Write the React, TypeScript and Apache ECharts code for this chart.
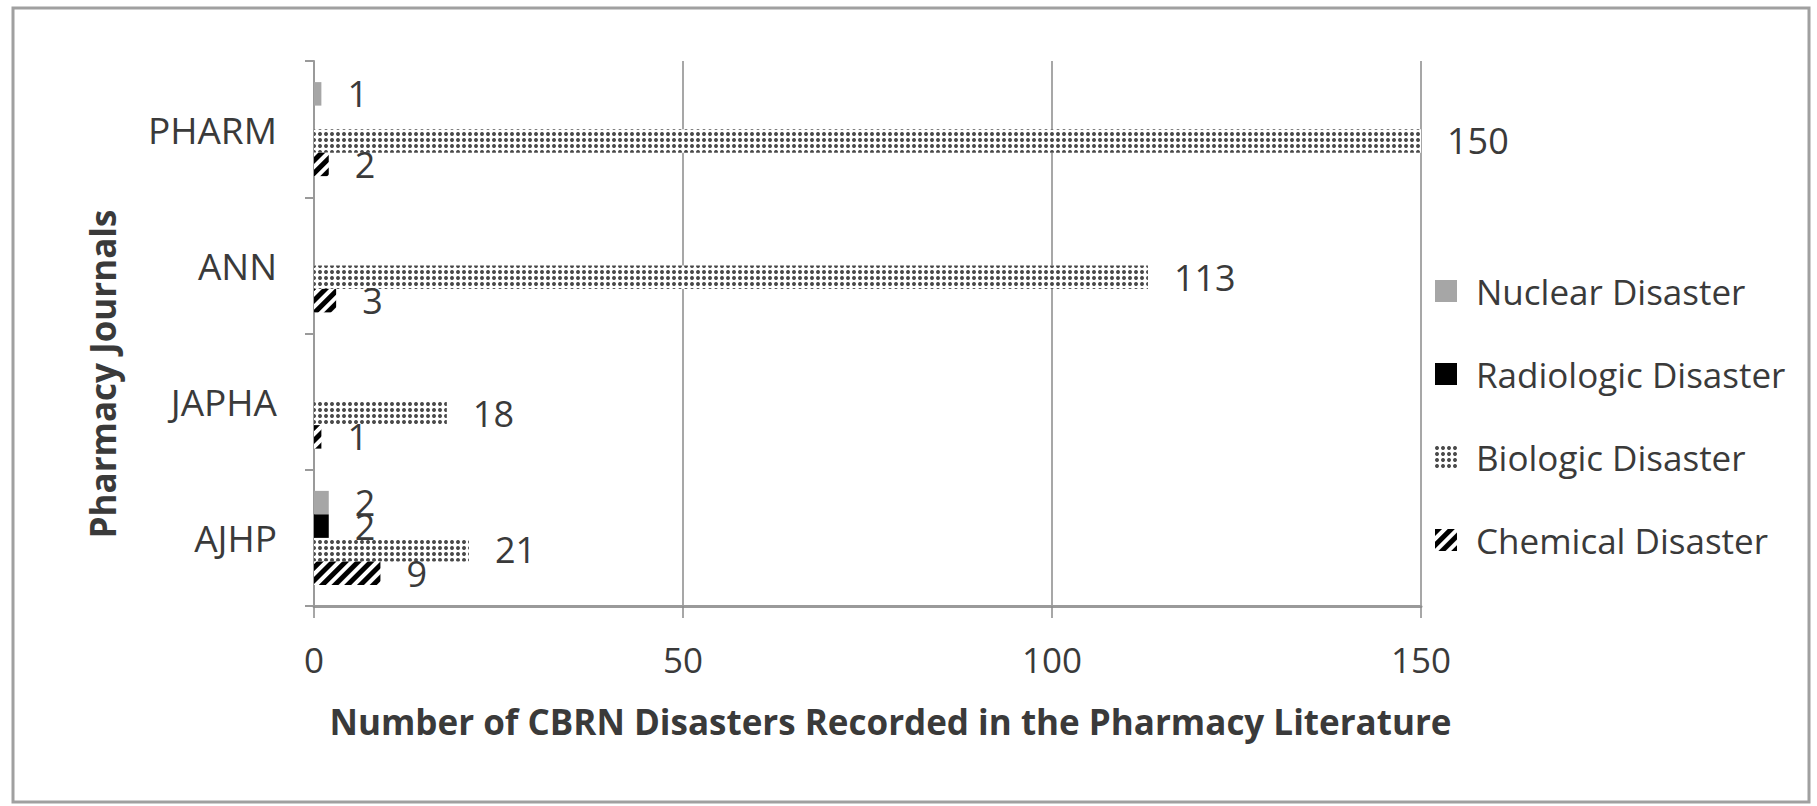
import React, { useEffect, useRef } from "react";
import * as echarts from "echarts";

const categories = ["PHARM", "ANN", "JAPHA", "AJHP"];
const seriesNames = ["Nuclear Disaster", "Radiologic Disaster", "Biologic Disaster", "Chemical Disaster"];
const nuclear = [1, 0, 0, 2];
const radiologic = [0, 0, 0, 2];
const biologic = [150, 113, 18, 21];
const chemical = [2, 3, 1, 9];
const xTicks = [0, 50, 100, 150];

const FONT = "'Open Sans', sans-serif";
const TEXT = "#3a3a3a";

export default function App() {
  const ref = useRef<HTMLDivElement>(null);
  useEffect(() => {
    if (!ref.current) return;
    const chart = echarts.init(ref.current, undefined, { renderer: "svg" });
    const label = {
      show: true,
      position: "right" as const,
      distance: 26,
      fontFamily: FONT,
      fontSize: 36,
      color: TEXT,
      formatter: (p: any) => (p.value ? String(p.value) : ""),
    };
    const styles = [
      { color: "#a6a6a6" },
      { color: "#000000" },
      {
        color: "#ffffff",
        decal: {
          symbol: "circle",
          symbolSize: 1,
          dashArrayX: [4, 1.5],
          dashArrayY: [4, 1.5],
          color: "#4a4a4a",
        },
      },
      {
        color: "#ffffff",
        decal: {
          symbol: "rect",
          symbolSize: 1,
          dashArrayX: [1, 0],
          dashArrayY: [5, 4],
          rotation: -Math.PI / 4,
          color: "#000000",
        },
      },
    ];
    const data = [nuclear, radiologic, biologic, chemical];
    chart.setOption({
      animation: false,
      aria: { enabled: false, decal: { show: false } },
      grid: { left: 314, right: 396, top: 61, bottom: 200, containLabel: false },
      legend: {
        orient: "vertical",
        left: 1430,
        top: 266,
        itemWidth: 22,
        itemHeight: 22,
        itemGap: 43,
        icon: "rect",
        data: seriesNames,
        textStyle: {
          fontFamily: FONT,
          fontSize: 35,
          color: TEXT,
          lineHeight: 40,
          padding: [0, 0, 0, 14],
        },
      },
      xAxis: {
        type: "value",
        min: xTicks[0],
        max: xTicks[xTicks.length - 1],
        interval: 50,
        name: "Number of CBRN Disasters Recorded in the Pharmacy Literature",
        nameLocation: "middle",
        nameGap: 98,
        nameTextStyle: {
          fontFamily: FONT,
          fontSize: 35,
          fontWeight: "bold",
          color: TEXT,
          padding: [0, 0, 0, 46],
        },
        axisLine: { show: true, lineStyle: { color: "#9a9a9a", width: 3 } },
        axisTick: { show: true, length: 12, lineStyle: { color: "#8a8a8a", width: 1.5 } },
        axisLabel: { fontFamily: FONT, fontSize: 35, color: TEXT, margin: 36 },
        splitLine: { show: true, lineStyle: { color: "#8a8a8a", width: 1.5 } },
      },
      yAxis: {
        type: "category",
        data: categories,
        inverse: true,
        axisLine: { show: true, lineStyle: { color: "#9a9a9a", width: 2 } },
        axisTick: { show: true, length: 9, inside: false, lineStyle: { color: "#9a9a9a", width: 2 } },
        axisLabel: { fontFamily: FONT, fontSize: 37, color: TEXT, margin: 37 },
        splitLine: { show: false },
      },
      graphic: [
        {
          type: "rect",
          shape: { x: 13, y: 8, width: 1796, height: 794 },
          style: { fill: "none", stroke: "#a0a0a0", lineWidth: 3 },
          silent: true,
        },
        {
          type: "text",
          x: 102,
          y: 374,
          rotation: Math.PI / 2,
          style: {
            text: "Pharmacy Journals",
            fontFamily: FONT,
            fontSize: 35,
            fontWeight: "bold",
            fill: TEXT,
            align: "center",
            verticalAlign: "middle",
          },
          silent: true,
        },
      ],
      series: seriesNames.map((name, i) => ({
        name,
        type: "bar",
        data: data[i],
        barGap: "0%",
        barCategoryGap: "31%",
        itemStyle: styles[i],
        label,
      })),
    });
    return () => chart.dispose();
  }, []);
  return (
    <div
      ref={ref}
      style={{ position: "absolute", left: 0, top: 0, width: 1817, height: 806, background: "#fff" }}
    />
  );
}
